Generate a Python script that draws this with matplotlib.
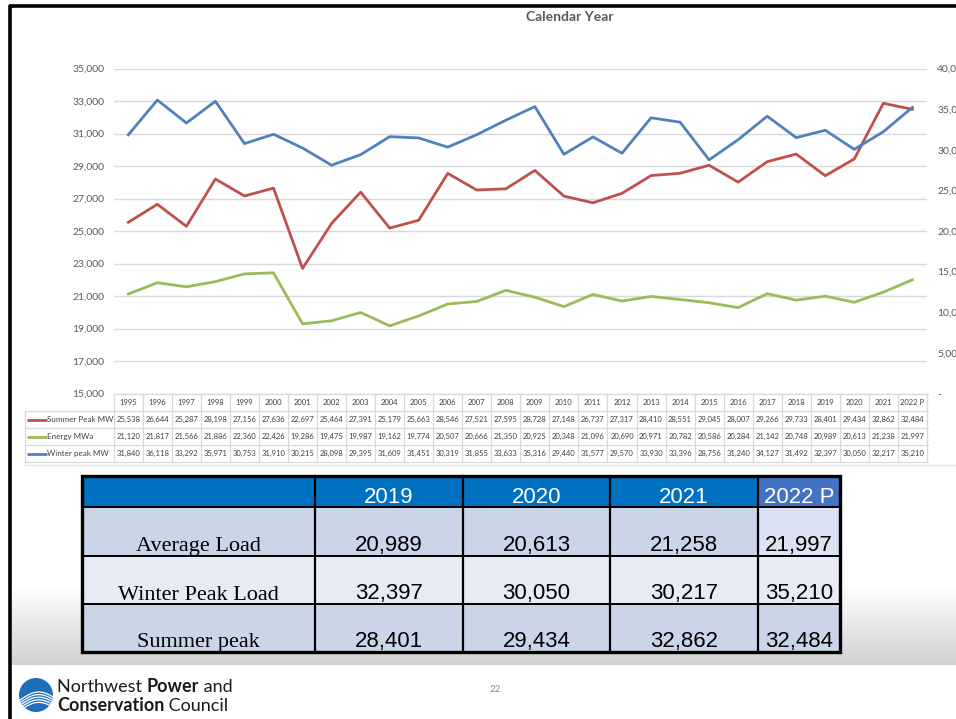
import matplotlib
matplotlib.use("Agg")
import matplotlib.pyplot as plt
import numpy as np
from matplotlib.patches import Rectangle, Circle
from matplotlib.ticker import FuncFormatter

# ---------------- data ----------------
years = ["1995", "1996", "1997", "1998", "1999", "2000", "2001", "2002", "2003", "2004",
         "2005", "2006", "2007", "2008", "2009", "2010", "2011", "2012", "2013", "2014",
         "2015", "2016", "2017", "2018", "2019", "2020", "2021", "2022 P"]
summer_peak = [25538, 26644, 25287, 28198, 27156, 27636, 22697, 25464, 27391, 25179,
               25663, 28546, 27521, 27595, 28728, 27148, 26737, 27317, 28410, 28551,
               29045, 28007, 29266, 29733, 28401, 29434, 32862, 32484]
energy = [21120, 21817, 21566, 21886, 22360, 22426, 19286, 19475, 19987, 19162,
          19774, 20507, 20666, 21350, 20925, 20348, 21096, 20690, 20971, 20782,
          20586, 20284, 21142, 20748, 20989, 20613, 21238, 21997]
winter_peak = [31840, 36118, 33292, 35971, 30753, 31910, 30215, 28098, 29395, 31609,
               31451, 30319, 31855, 33633, 35316, 29440, 31577, 29570, 33930, 33396,
               28756, 31240, 34127, 31492, 32397, 30050, 32217, 35210]
series_names = ["Summer Peak MW", "Energy MWa", "Winter peak MW"]
series_colors = ["#C0504D", "#9BBB59", "#4F81BD"]

summary_cols = ["2019", "2020", "2021", "2022 P"]
summary_rows = ["Average Load", "Winter Peak Load", "Summer peak"]
summary_vals = [["20,989", "20,613", "21,258", "21,997"],
                ["32,397", "30,050", "30,217", "35,210"],
                ["28,401", "29,434", "32,862", "32,484"]]

W, H = 956, 719
fig = plt.figure(figsize=(W / 100, H / 100), dpi=100)

# overlay axes in pixel coordinates
ov = fig.add_axes([0, 0, 1, 1], zorder=0)
ov.set_xlim(0, W)
ov.set_ylim(H, 0)
ov.axis("off")

def fr(x0, y0, x1, y1):
    return [x0 / W, 1 - y1 / H, (x1 - x0) / W, (y1 - y0) / H]

# gradient band near the bottom of the slide content
grad = np.linspace(1.0, 0.82, 100).reshape(-1, 1)
grad_rgb = np.dstack([grad, grad, grad])
ov.imshow(grad_rgb, extent=[12, W, 665, 585], aspect="auto", zorder=0.5, interpolation="bilinear")

# slide border
ov.plot([10.5, 10.5], [5, H], color="black", lw=2.6, zorder=5, solid_capstyle="butt")
ov.plot([9, W], [6, 6], color="black", lw=2.6, zorder=5, solid_capstyle="butt")

# ---------------- line chart ----------------
X0, X1, Y0, Y1 = 113.8, 926.9, 68.5, 393.5
ax = fig.add_axes(fr(X0, Y0, X1, Y1), zorder=2)
ax.patch.set_alpha(0)
ax2 = ax.twinx()
ax2.patch.set_alpha(0)
x = np.arange(len(years))
ax.plot(x, summer_peak, color=series_colors[0], lw=2.0, solid_joinstyle="round", zorder=3)
ax.plot(x, energy, color=series_colors[1], lw=2.0, solid_joinstyle="round", zorder=3)
ax2.plot(x, winter_peak, color=series_colors[2], lw=2.0, solid_joinstyle="round", zorder=3)
ax.set_xlim(-0.5, len(years) - 0.5)
ax.set_ylim(15000, 35000)
ax2.set_ylim(0, 40000)
ax.set_yticks(np.arange(15000, 35001, 2000))
ax2.set_yticks(np.arange(0, 40001, 5000))
ax.yaxis.set_major_formatter(FuncFormatter(lambda v, p: f"{v:,.0f}"))
ax2.yaxis.set_major_formatter(FuncFormatter(lambda v, p: "-" if v == 0 else f"{v:,.0f}"))
ax.set_xticks([])
for a in (ax, ax2):
    for s in a.spines.values():
        s.set_visible(False)
ax.tick_params(axis="y", length=0, pad=7, labelsize=7.5, labelcolor="#595959")
ax2.tick_params(axis="y", length=0, pad=7.5, labelsize=7.5, labelcolor="#595959")
for t in ax.get_yticklabels() + ax2.get_yticklabels():
    t.set_fontfamily("Lato")
ax.grid(axis="y", color="#D9D9D9", lw=1.0)
ax.set_axisbelow(True)

ov.text(570, 17, "Calendar Year", ha="center", va="center", fontsize=10,
        fontweight="bold", color="#595959", family="Lato")

# ---------------- data table under chart ----------------
n = len(years)
cw = (X1 - X0) / n
row_y = [394, 411, 428, 445, 462]
grid_c = "#D9D9D9"
ov.plot([X0, X1 + 1], [row_y[0], row_y[0]], color=grid_c, lw=0.9, zorder=3)
for yy in row_y[1:]:
    ov.plot([25, X1 + 1], [yy, yy], color=grid_c, lw=0.9, zorder=3)
for i in range(n + 1):
    xx = X0 + i * cw
    ov.plot([xx, xx], [row_y[0], row_y[-1]], color=grid_c, lw=0.9, zorder=3)
ov.plot([25, 25], [row_y[1], row_y[-1]], color=grid_c, lw=0.9, zorder=3)
tfs = 5.5
tc = "#404040"
for i, yr in enumerate(years):
    cx = X0 + (i + 0.5) * cw
    ov.text(cx, (row_y[0] + row_y[1]) / 2, yr, ha="center", va="center", fontsize=tfs, color=tc, family="Lato")
    for r, vals in enumerate([summer_peak, energy, winter_peak]):
        ov.text(cx, (row_y[r + 1] + row_y[r + 2]) / 2, f"{vals[i]:,}", ha="center", va="center",
                fontsize=tfs, color=tc, family="Lato")
for r, (nm, col) in enumerate(zip(series_names, series_colors)):
    yc = (row_y[r + 1] + row_y[r + 2]) / 2
    ov.plot([27, 47], [yc, yc], color=col, lw=2.0, zorder=4, solid_capstyle="butt")
    ov.text(47.5, yc, nm, ha="left", va="center", fontsize=tfs + 0.3, color=tc, family="Lato")

ov.plot([25, W], [465, 465], color="#E3E3E3", lw=1.0, zorder=3)

# ---------------- summary table ----------------
col_x = [82, 315, 463, 610, 758, 840]
row_b = [476, 507, 556, 604, 652]
hdr_colors = ["#0070C0", "#0070C0", "#0070C0", "#0070C0", "#4472C4"]
body_colors = [["#CBD5E8", "#CBD5E8", "#CBD5E8", "#CBD5E8", "#DCE1F3"],
               ["#E8EBF5", "#E8EBF5", "#E8EBF5", "#E8EBF5", "#E8EBF5"],
               ["#CBD5E8", "#CBD5E8", "#CBD5E8", "#CBD5E8", "#CBD5E8"]]
for c in range(5):
    ov.add_patch(Rectangle((col_x[c], row_b[0]), col_x[c + 1] - col_x[c], row_b[1] - row_b[0],
                           facecolor=hdr_colors[c], edgecolor="none", zorder=3))
    for r in range(3):
        ov.add_patch(Rectangle((col_x[c], row_b[r + 1]), col_x[c + 1] - col_x[c], row_b[r + 2] - row_b[r + 1],
                               facecolor=body_colors[r][c], edgecolor="none", zorder=3))
for xx in col_x[1:-1]:
    ov.plot([xx, xx], [row_b[0], row_b[-1]], color="black", lw=1.6, zorder=4)
for yy in row_b[1:-1]:
    ov.plot([col_x[0], col_x[-1]], [yy, yy], color="black", lw=1.4, zorder=4)
ov.add_patch(Rectangle((col_x[0], row_b[0]), col_x[-1] - col_x[0], row_b[-1] - row_b[0],
                       facecolor="none", edgecolor="black", lw=2.4, zorder=5))
for c, name in enumerate(summary_cols):
    cx = (col_x[c + 1] + col_x[c + 2]) / 2
    ov.text(cx, 503, name, ha="center", va="baseline", fontsize=16, color="white",
            family="Liberation Sans", zorder=6)
    for r in range(3):
        ov.text(cx, row_b[r + 2] - 5, summary_vals[r][c], ha="center", va="baseline", fontsize=16,
                color="black", family="Liberation Sans", zorder=6)
for r, name in enumerate(summary_rows):
    ov.text((col_x[0] + col_x[1]) / 2, row_b[r + 2] - 4.5, name, ha="center", va="baseline",
            fontsize=16, color="black", family="Liberation Serif", zorder=6)

# ---------------- footer ----------------
ov.text(495, 689, "22", ha="center", va="center", fontsize=7, color="#8C8C8C", family="Lato")

logo = Circle((36, 695), 17, facecolor="#1F6FB8", edgecolor="none", zorder=3)
ov.add_patch(logo)
tt = np.linspace(0, 1, 50)
for k in range(5):
    xs = 20 + tt * 34
    ys = 700 + k * 2.6 - 8 * np.sin(tt * np.pi * 0.9)
    ln, = ov.plot(xs, ys, color="white", lw=0.9, zorder=4)
    ln.set_clip_path(logo)

fig.canvas.draw()
rend = fig.canvas.get_renderer()
inv = ov.transData.inverted()

def runs(x0, y, parts, fs):
    xx = x0
    for txt, wt in parts:
        t = ov.text(xx, y, txt, ha="left", va="baseline", fontsize=fs, fontweight=wt,
                    color="#1A1A1A", family="Lato", zorder=6)
        bb = t.get_window_extent(renderer=rend)
        xx = inv.transform((bb.x1, bb.y0))[0]

runs(57, 692, [("Northwest ", "normal"), ("Power", "bold"), (" and", "normal")], 13)
runs(57, 711, [("Conservation", "bold"), (" Council", "normal")], 13)

fig.savefig("out.png", dpi=100)
